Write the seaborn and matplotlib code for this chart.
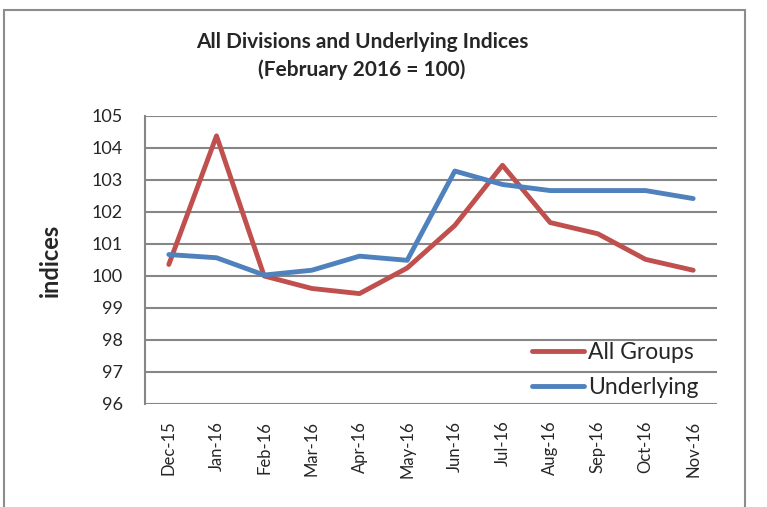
import pandas as pd
import matplotlib.pyplot as plt
import matplotlib.patches as patches
import seaborn as sns

# monthly index values
months = ['Dec-15', 'Jan-16', 'Feb-16', 'Mar-16', 'Apr-16', 'May-16',
          'Jun-16', 'Jul-16', 'Aug-16', 'Sep-16', 'Oct-16', 'Nov-16']
all_groups = [100.36, 104.38, 100.0, 99.61, 99.45, 100.25,
              101.58, 103.46, 101.67, 101.32, 100.52, 100.18]
underlying = [100.67, 100.57, 100.03, 100.18, 100.62, 100.49,
              103.28, 102.86, 102.67, 102.67, 102.67, 102.42]
yticks = [96, 97, 98, 99, 100, 101, 102, 103, 104, 105]

df = pd.DataFrame({
    'month': months * 2,
    'index': all_groups + underlying,
    'series': ['All Groups'] * len(months) + ['Underlying'] * len(months),
})

sns.set_style('white')
plt.rcParams['font.family'] = ['Lato', 'DejaVu Sans']

fig = plt.figure(figsize=(7.67, 5.07), dpi=100)
ax = fig.add_axes([145 / 767, 1 - 404 / 507, 572 / 767, 288 / 507])

sns.lineplot(data=df, x='month', y='index', hue='series', sort=False,
             palette={'All Groups': '#C0504D', 'Underlying': '#4F81BD'},
             linewidth=3.5, ax=ax)

ax.set_xlim(-0.5, len(months) - 0.5)
ax.set_ylim(96, 105)
ax.set_yticks(yticks)
ax.yaxis.grid(True, color='#868686', linewidth=1.5)
ax.set_axisbelow(True)
for s in ['top', 'right', 'bottom']:
    ax.spines[s].set_visible(False)
ax.spines['left'].set_color('#868686')
ax.spines['left'].set_linewidth(1.5)
ax.tick_params(axis='y', labelsize=13, length=0, pad=16)
ax.tick_params(axis='x', labelsize=12, length=0, pad=12, labelrotation=90)
ax.set_xlabel('')
ax.set_ylabel('indices', fontsize=17, fontweight='bold', labelpad=21)

ax.legend(loc='upper left', bbox_to_anchor=(0.676, 0.215), frameon=False,
          fontsize=16.5, handlelength=2.3, handletextpad=0.15, labelspacing=0.62,
          borderpad=0, borderaxespad=0)

fig.text(362 / 767, 1 - 42 / 507, 'All Divisions and Underlying Indices',
         ha='center', va='center', fontsize=15, fontweight='bold')
fig.text(362 / 767, 1 - 70 / 507, '(February 2016 = 100)',
         ha='center', va='center', fontsize=15, fontweight='bold')

# outer chart border (cropped at the bottom)
fig.patches.append(patches.Rectangle((4 / 767, -0.05), 741 / 767, 1.05 - 10 / 507,
                                     transform=fig.transFigure, fill=False,
                                     edgecolor='#8c8c8c', linewidth=1.5))

plt.savefig('out.png', dpi=100)
plt.close()
